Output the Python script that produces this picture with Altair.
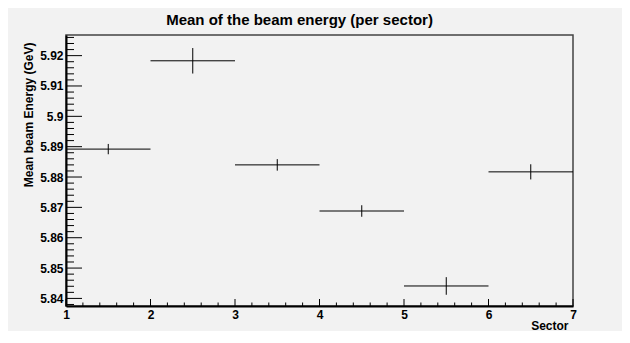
import altair as alt
import pandas as pd

# ---- data ----
sector_low = [1, 2, 3, 4, 5, 6]
sector_high = [2, 3, 4, 5, 6, 7]
mean_energy = [5.8892, 5.9183, 5.8840, 5.8688, 5.8441, 5.8817]
mean_error = [0.0017, 0.0042, 0.0019, 0.0019, 0.0029, 0.0025]

x_major = [1, 2, 3, 4, 5, 6, 7]
x_minor = [round(1 + 0.2 * i, 2) for i in range(31) if i % 5 != 0]
y_major = [5.84, 5.85, 5.86, 5.87, 5.88, 5.89, 5.90, 5.91, 5.92]
y_minor = [round(5.838 + 0.002 * i, 3) for i in range(45)]
y_minor = [v for v in y_minor if all(abs(v - m) > 1e-6 for m in y_major)]

x_domain = [1, 7]
y_domain = [5.8375, 5.9268]

title_text = "Mean of the beam energy (per sector)"
FONT = "Liberation Sans"

df = pd.DataFrame({
    "low": sector_low,
    "high": sector_high,
    "center": [(a + b) / 2 for a, b in zip(sector_low, sector_high)],
    "mean": mean_energy,
    "lo": [m - e for m, e in zip(mean_energy, mean_error)],
    "hi": [m + e for m, e in zip(mean_energy, mean_error)],
})

xs = alt.Scale(domain=x_domain, nice=False, zero=False)
ys = alt.Scale(domain=y_domain, nice=False, zero=False)

x_axis = alt.Axis(
    values=x_major, ticks=False, tickSize=0, grid=False,
    domainColor="black", domainWidth=2,
    labelFont=FONT, labelFontSize=12, labelFontWeight="bold", labelColor="black",
    labelPadding=3, labelFlush=False,
    title="Sector", titleFont=FONT, titleFontSize=12, titleFontWeight="bold",
    titleColor="black", titleAlign="right", titleAnchor="end",
    titleX=502, titleY=23, titleBaseline="alphabetic",
)
y_axis = alt.Axis(
    values=y_major, format=".2~f", ticks=False, tickSize=0, grid=False,
    domainColor="black", domainWidth=2,
    labelFont=FONT, labelFontSize=12, labelFontWeight="bold", labelColor="black",
    labelPadding=3, labelFlush=False,
    title="Mean beam Energy (GeV)", titleFont=FONT, titleFontSize=12,
    titleFontWeight="bold", titleColor="black", titleAngle=270,
    titleAlign="right", titleAnchor="end", titleX=-34, titleY=7,
    titleBaseline="alphabetic",
)

X = lambda f: alt.X(f, scale=xs, axis=x_axis)
Y = lambda f: alt.Y(f, scale=ys, axis=y_axis)

hbars = alt.Chart(df).mark_rule(color="black", strokeWidth=1).encode(
    x=X("low:Q"), x2="high:Q", y=Y("mean:Q"))
ebars = alt.Chart(df).mark_rule(color="black", strokeWidth=1).encode(
    x=X("center:Q"), y=Y("lo:Q"), y2="hi:Q")

ymaj = alt.Chart(pd.DataFrame({"v": y_major})).mark_rule(color="black", strokeWidth=1).encode(
    y=Y("v:Q"), x=alt.value(0), x2=alt.value(16))
ymin = alt.Chart(pd.DataFrame({"v": y_minor})).mark_rule(color="black", strokeWidth=1).encode(
    y=Y("v:Q"), x=alt.value(0), x2=alt.value(8))
xmaj = alt.Chart(pd.DataFrame({"v": x_major})).mark_rule(color="black", strokeWidth=1).encode(
    x=X("v:Q"), y=alt.value(271), y2=alt.value(264))
xmin = alt.Chart(pd.DataFrame({"v": x_minor})).mark_rule(color="black", strokeWidth=1).encode(
    x=X("v:Q"), y=alt.value(271), y2=alt.value(267.5))

title_mark = alt.Chart(pd.DataFrame({"t": [title_text]})).mark_text(
    font=FONT, fontSize=15, fontWeight="bold", color="black",
    align="center", baseline="alphabetic",
).encode(text="t:N", x=alt.value(233.5), y=alt.value(-10))

chart = alt.layer(ymin, ymaj, xmin, xmaj, hbars, ebars, title_mark).properties(
    width=507, height=271,
    autosize=alt.AutoSizeParams(type="none"),
    padding={"left": 58, "top": 27, "right": 49, "bottom": 25},
    background="#f2f2f2",
).configure_view(stroke="#444444", strokeWidth=1.5)

chart.save("out.html", embed_options={"renderer": "svg", "actions": False})
